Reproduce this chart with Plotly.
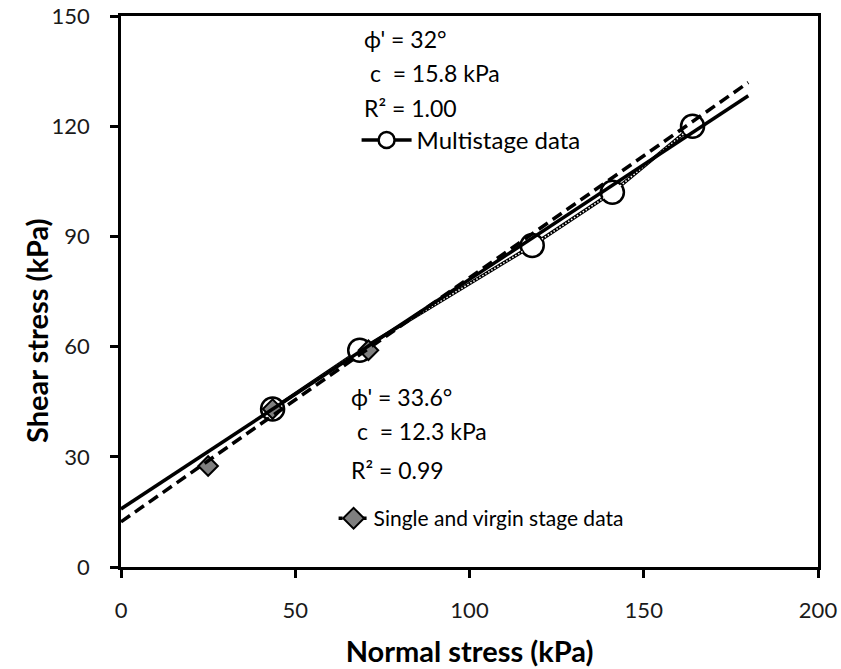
import numpy as np
import plotly.graph_objects as go

# Multistage data
ms_x = [43.5, 68.5, 118.0, 141.0, 164.0]
ms_y = [43.0, 59.0, 87.5, 102.0, 120.0]
ms_phi, ms_c = 32.0, 15.8

# Single and virgin stage data
ss_x = [25.0, 43.5, 71.0]
ss_y = [27.5, 43.0, 59.0]
ss_phi, ss_c = 33.6, 12.3

trend_x = [0.0, 180.0]
x_ticks = [0, 50, 100, 150, 200]
y_ticks = [0, 30, 60, 90, 120, 150]

FONT = "Lato"

def trend(c, phi):
    return [c + np.tan(np.radians(phi)) * x for x in trend_x]

fig = go.Figure()

# multistage series (line + open circles)
fig.add_trace(go.Scatter(
    x=ms_x, y=ms_y, mode="lines+markers", name="Multistage data",
    line=dict(color="black", width=3.5),
    marker=dict(symbol="circle", size=23, color="white",
                line=dict(color="black", width=2.5)),
    legend="legend", showlegend=True))
fig.add_trace(go.Scatter(
    x=ms_x, y=ms_y, mode="lines", showlegend=False,
    line=dict(color="white", width=1.5, dash="1.5px,2px"), hoverinfo="skip"))

# single stage markers
fig.add_trace(go.Scatter(
    x=ss_x, y=ss_y, mode="markers", showlegend=False,
    marker=dict(symbol="diamond", size=15, color="#7f7f7f",
                line=dict(color="black", width=2))))
# legend-only entry for single stage
fig.add_trace(go.Scatter(
    x=[None], y=[None], mode="lines+markers", name="Single and virgin stage data",
    line=dict(color="black", width=3.5, dash="4px,4px"),
    marker=dict(symbol="diamond", size=18, color="#7f7f7f",
                line=dict(color="black", width=2)),
    legend="legend2", showlegend=True))

# trendlines
fig.add_trace(go.Scatter(
    x=trend_x, y=trend(ms_c, ms_phi), mode="lines", showlegend=False,
    line=dict(color="black", width=3.5), hoverinfo="skip"))
fig.add_trace(go.Scatter(
    x=trend_x, y=trend(ss_c, ss_phi), mode="lines", showlegend=False,
    line=dict(color="black", width=3.5, dash="11px,6px"), hoverinfo="skip"))

NB = "\u00a0"
ann = [
    ("\u03d5' = 32\u00b0", 0.346, 0.958),
    (NB + "c" + NB + NB + "= 15.8 kPa", 0.346, 0.897),
    ("R\u00b2 = 1.00", 0.346, 0.833),
    ("\u03d5' = 33.6\u00b0", 0.327, 0.309),
    (NB + "c" + NB + NB + "= 12.3 kPa", 0.327, 0.247),
    ("R\u00b2 = 0.99", 0.327, 0.176),
]
annotations = [dict(text=t, x=x, y=y, xref="paper", yref="paper",
                    xanchor="left", yanchor="middle", showarrow=False,
                    font=dict(family=FONT, size=23, color="black"))
               for t, x, y in ann]
# y-axis title (centred on the chart height, as in the original)
annotations.append(dict(text="<b>Shear stress (kPa)</b>", textangle=-90,
                        x=-0.122, y=0.43, xref="paper", yref="paper",
                        xanchor="center", yanchor="middle", showarrow=False,
                        font=dict(family=FONT, size=29, color="black")))

axis_common = dict(showline=True, linecolor="black", linewidth=2.5, mirror=True,
                   ticks="outside", ticklen=8, tickwidth=2.5, tickcolor="black",
                   showgrid=False, zeroline=False, automargin=False,
                   tickfont=dict(family=FONT, size=22, color="#1a1a1a"))

fig.update_layout(
    width=841, height=669,
    margin=dict(l=121, r=23, t=16, b=102),
    paper_bgcolor="white", plot_bgcolor="white",
    annotations=annotations,
    xaxis=dict(range=[0, 200], tickvals=x_ticks, ticklabelstandoff=14,
               title=dict(text="<b>Normal stress (kPa)</b>", standoff=20,
                          font=dict(family=FONT, size=29, color="black")),
               **axis_common),
    yaxis=dict(range=[0, 150], tickvals=y_ticks, ticklabelstandoff=16,
               **axis_common),
    legend=dict(x=0.338, y=0.815, xanchor="left", yanchor="top", itemwidth=50,
                bgcolor="rgba(0,0,0,0)", font=dict(family=FONT, size=24, color="black")),
    legend2=dict(x=0.305, y=0.125, xanchor="left", yanchor="top",
                 bgcolor="rgba(0,0,0,0)", font=dict(family=FONT, size=21, color="black")),
    showlegend=True,
)

fig.write_html("out.html")
